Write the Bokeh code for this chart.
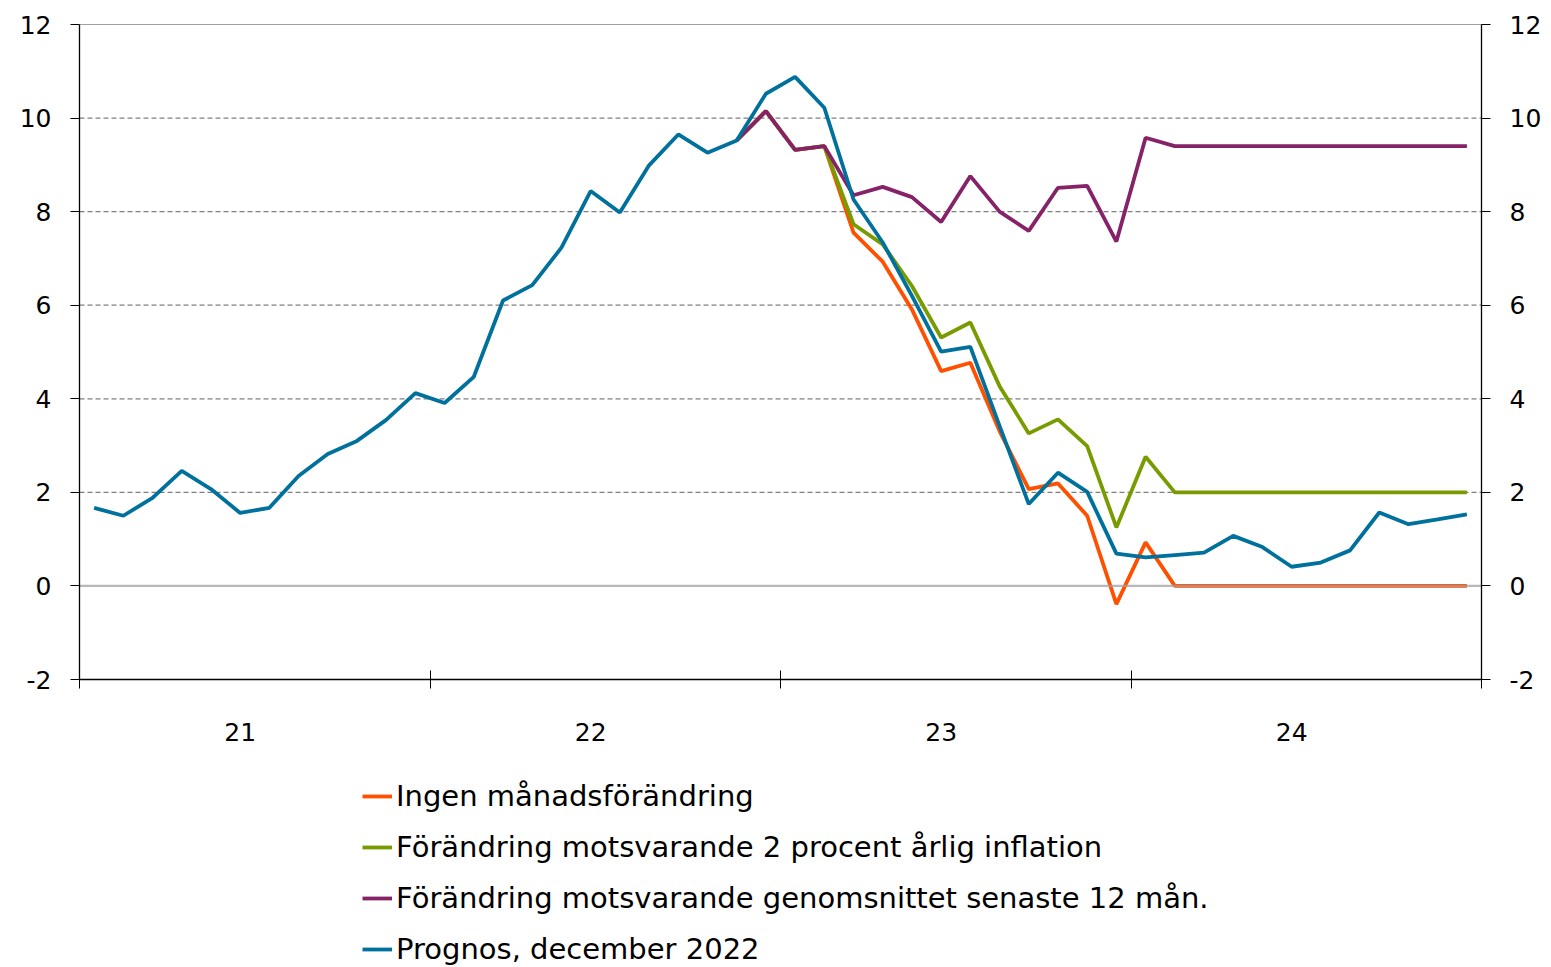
from bokeh.plotting import figure
from bokeh.layouts import column
from bokeh.models import (LinearAxis, FixedTicker, Range1d, Legend, LegendItem, Span)
from bokeh.embed import file_html
from bokeh.resources import INLINE

# ---- data ----
months = list(range(48))  # Jan 2021 .. Dec 2024
year_labels = ["21", "22", "23", "24"]
y_ticks = [-2, 0, 2, 4, 6, 8, 10, 12]

prognos_dec2022 = [1.67, 1.50, 1.88, 2.46, 2.07, 1.56, 1.67, 2.35, 2.82, 3.10, 3.55, 4.12,
                   3.91, 4.47, 6.10, 6.43, 7.23, 8.44, 7.98, 8.99, 9.65, 9.26, 9.52, 10.52,
                   10.88, 10.22, 8.26, 7.34, 6.20, 5.01, 5.11, 3.42, 1.75, 2.42, 2.01, 0.69,
                   0.61, 0.66, 0.71, 1.07, 0.83, 0.41, 0.50, 0.76, 1.57, 1.32, 1.42, 1.53]

scen_months = list(range(22, 48))
outcome_common = [9.52, 10.15, 9.32, 9.40]
ingen = outcome_common + [7.55, 6.93, 5.91, 4.59, 4.77, 3.31, 2.07, 2.19, 1.50, -0.39, 0.93] + [0.0] * 11
tva_procent = outcome_common + [7.73, 7.30, 6.41, 5.31, 5.63, 4.27, 3.26, 3.56, 2.99, 1.25, 2.76] + [2.0] * 11
snitt12 = outcome_common + [8.35, 8.53, 8.31, 7.78, 8.76, 8.00, 7.59, 8.51, 8.55, 7.36, 9.58] + [9.40] * 11

labels = ["Ingen månadsförändring",
          "Förändring motsvarande 2 procent årlig inflation",
          "Förändring motsvarande genomsnittet senaste 12 mån.",
          "Prognos, december 2022"]
colors = ["#ff5000", "#789b00", "#852268", "#00709c"]

FONT = "DejaVu Sans"
W = 1549
H1 = 760
H2 = 205
LW = 3.8

p = figure(width=W, height=H1, output_backend="svg", toolbar_location=None,
           x_range=Range1d(-0.5, 47.5), y_range=Range1d(-2, 12),
           min_border_left=79, min_border_right=W - 1481, min_border_top=24,
           min_border_bottom=H1 - 679,
           x_axis_type=None, y_axis_type=None)
p.outline_line_color = None
p.background_fill_color = "white"
p.border_fill_color = "white"

# y axes
for side in ["left", "right"]:
    ax = LinearAxis(ticker=FixedTicker(ticks=y_ticks))
    ax.major_label_overrides = {-2: "-2"}
    ax.axis_line_color = "black"
    ax.axis_line_width = 1.3
    ax.major_tick_line_color = "black"
    ax.major_tick_in = 0
    ax.major_tick_out = 9
    ax.minor_tick_line_color = None
    ax.major_label_text_font = FONT
    ax.major_label_text_font_size = "25px"
    ax.major_label_text_color = "black"
    ax.major_label_standoff = 19
    p.add_layout(ax, side)

# x axis: ticks at year boundaries, labels near mid-year
label_pos = [5, 17, 29, 41]
xax = LinearAxis(ticker=FixedTicker(ticks=label_pos, minor_ticks=[-0.5, 11.5, 23.5, 35.5, 47.5]))
xax.major_label_overrides = {c: l for c, l in zip(label_pos, year_labels)}
xax.axis_line_color = "black"
xax.axis_line_width = 1.3
xax.major_tick_line_color = None
xax.major_tick_in = 0
xax.major_tick_out = 0
xax.minor_tick_line_color = "black"
xax.minor_tick_in = 9
xax.minor_tick_out = 9
xax.major_label_text_font = FONT
xax.major_label_text_font_size = "25px"
xax.major_label_text_color = "black"
xax.major_label_standoff = 34
p.add_layout(xax, "below")

# grid
p.ygrid.visible = False
for yv in [2, 4, 6, 8, 10]:
    p.add_layout(Span(location=yv, dimension="width", line_color="#7f7f7f",
                      line_dash="5 3", line_width=1.2, level="underlay"))
p.add_layout(Span(location=12, dimension="width", line_color="#404040", line_width=1.2, level="underlay"))

for ys, c in zip([ingen, tva_procent, snitt12], colors[:3]):
    p.line(scen_months, ys, line_color=c, line_width=LW)
p.line(months, prognos_dec2022, line_color=colors[3], line_width=LW)

p.add_layout(Span(location=0, dimension="width", line_color="#a0a0a0", line_width=2.2,
                  line_alpha=0.75, level="glyph"))

# legend in a separate strip below the chart (frames are aligned with the chart)
p2 = figure(width=W, height=H2, output_backend="svg", toolbar_location=None,
            x_range=Range1d(0, 1), y_range=Range1d(0, 1),
            min_border_left=79, min_border_right=W - 1481, min_border_top=0, min_border_bottom=0,
            x_axis_type=None, y_axis_type=None)
p2.outline_line_color = None
p2.grid.visible = False
p2.background_fill_color = "white"
p2.border_fill_color = "white"
# legend-only renderers, kept outside the visible range
leg_renderers = [p2.line(x=[-5, -4], y=[-5, -5], line_color=c, line_width=LW) for c in colors]

legend = Legend(items=[LegendItem(label=l, renderers=[r]) for l, r in zip(labels, leg_renderers)],
                location=(283, -1), orientation="vertical",
                border_line_color=None, background_fill_alpha=0,
                label_text_font=FONT, label_text_font_size="29px", label_text_color="black",
                glyph_width=30, glyph_height=34, label_height=34, label_standoff=4,
                spacing=17, padding=0, margin=0)
p2.add_layout(legend, "center")

open("out.html", "w").write(file_html(column(p, p2, spacing=0), INLINE))
